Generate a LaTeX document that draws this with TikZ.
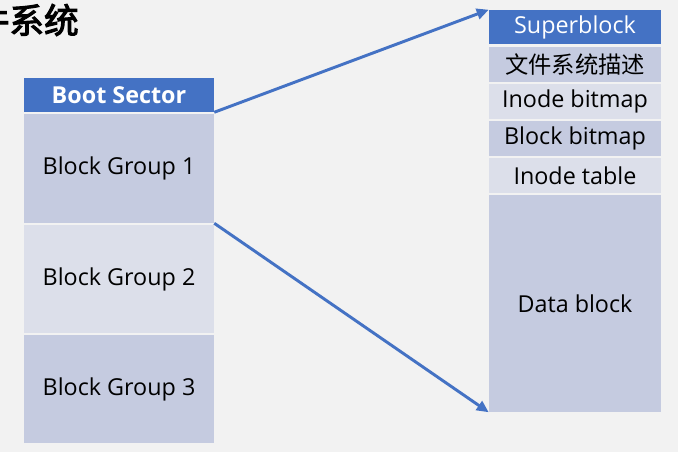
\documentclass[tikz,border=0pt]{standalone}
\usepackage{fontspec}
\setmainfont{Open Sans}
\newfontfamily\cjk{Noto Sans CJK SC}
\newfontfamily\cjkbold[FakeBold=3]{Noto Sans CJK SC}
\usetikzlibrary{arrows.meta}
\definecolor{bgc}{HTML}{F2F2F2}
\definecolor{darkb}{HTML}{4472C4}
\definecolor{midl}{HTML}{C5CBE0}
\definecolor{lightl}{HTML}{DCDFEA}
\begin{document}
\begin{tikzpicture}[x=0.75pt,y=-0.75pt,
  cell/.style={inner sep=0pt, font=\fontsize{17.5}{20}\selectfont, text=black},
  leftc/.style={cell, minimum width=142.5pt},
  rightc/.style={cell, minimum width=129pt},
  head/.style={fill=darkb, text=white},
  mid/.style={fill=midl},
  lite/.style={fill=lightl},
  link/.style={draw=darkb, line width=2.2pt, -{Triangle[length=9pt,width=8pt]}}]
\path[fill=bgc,use as bounding box] (0,0) rectangle (678,452);
\begin{scope}
\clip (0,0) rectangle (678,452);
\node[anchor=east, font=\cjkbold\fontsize{26}{28}\selectfont, inner sep=0pt] (title) at (79,20) {文件系统};
\end{scope}
% left column
\node[leftc, head, minimum height=25.5pt, font=\bfseries\fontsize{17.5}{20}\selectfont] (boot) at (119,95) {Boot Sector};
\node[leftc, mid, minimum height=81.75pt] (bg1) at (119,168.5) {Block Group 1};
\node[leftc, lite, minimum height=81pt] (bg2) at (119,279) {Block Group 2};
\node[leftc, mid, minimum height=81pt] (bg3) at (119,389) {Block Group 3};
% right column
\node[rightc, head, minimum height=25.5pt] (super) at (575,27) {Superblock};
\node[rightc, mid, minimum height=26.25pt, font=\cjk\fontsize{17.5}{20}\selectfont] (desc) at (575,64.5) {文件系统描述};
\node[rightc, lite, minimum height=26.25pt] (ibit) at (575,101.5) {Inode bitmap};
\node[rightc, mid, minimum height=26.25pt] (bbit) at (575,138.5) {Block bitmap};
\node[rightc, lite, minimum height=26.25pt] (itab) at (575,175.5) {Inode table};
\node[rightc, mid, minimum height=162.75pt] (data) at (575,303.5) {Data block};
% connectors
\draw[link] (boot.south east) -- (super.north west);
\draw[link] (bg1.south east) -- (data.south west);
\end{tikzpicture}
\end{document}
